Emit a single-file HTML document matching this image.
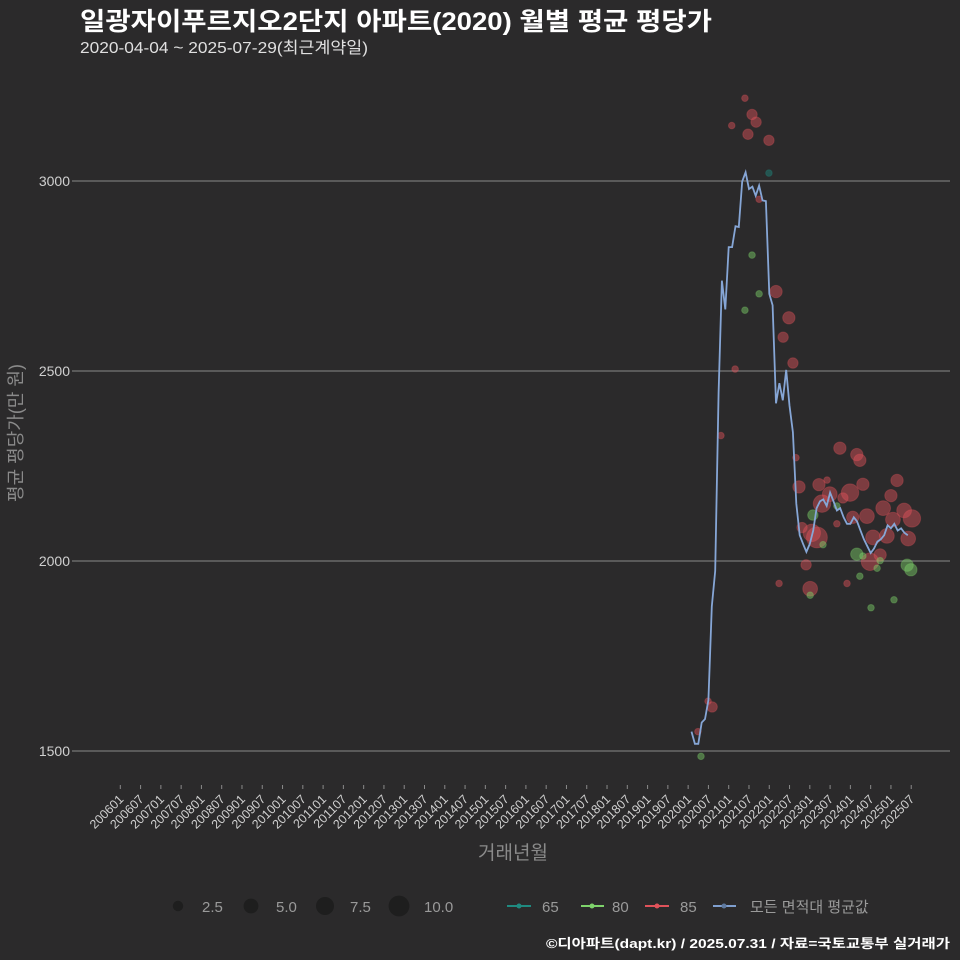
<!DOCTYPE html>
<html><head><meta charset="utf-8">
<style>
html,body{margin:0;padding:0;background:#2b2a2b;}
svg{display:block;font-family:"Liberation Sans","Noto Sans CJK KR",sans-serif;}
</style></head>
<body>
<svg id="chart" width="960" height="960" viewBox="0 0 960 960" xmlns="http://www.w3.org/2000/svg">
<rect width="960" height="960" fill="#2b2a2b"/>
<text x="80" y="30" fill="#ffffff" font-size="25" font-weight="bold" textLength="632" lengthAdjust="spacingAndGlyphs">일광자이푸르지오2단지 아파트(2020) 월별 평균 평당가</text>
<text x="80" y="53" fill="#e0e0e0" font-size="16" textLength="288" lengthAdjust="spacingAndGlyphs">2020-04-04 ~ 2025-07-29(최근계약일)</text>
<g id="grid"></g>
<g id="yticks"></g>
<g id="xticks"></g>
<g id="points"></g>
<g id="line"></g>
<text x="22" y="433" fill="#8a8a8a" font-size="18" text-anchor="middle" transform="rotate(-90 22 433)">평균 평당가(만 원)</text>
<text x="513" y="859" fill="#8a8a8a" font-size="19" text-anchor="middle">거래년월</text>
<g>
<circle cx="178" cy="906" r="5.2" fill="#1e1e1e"/>
<text x="202" y="912" fill="#9a9a9a" font-size="15">2.5</text>
<circle cx="251" cy="906" r="7.4" fill="#1e1e1e"/>
<text x="276" y="912" fill="#9a9a9a" font-size="15">5.0</text>
<circle cx="325" cy="906" r="9" fill="#1e1e1e"/>
<text x="350" y="912" fill="#9a9a9a" font-size="15">7.5</text>
<circle cx="399" cy="906" r="10.4" fill="#1e1e1e"/>
<text x="424" y="912" fill="#9a9a9a" font-size="15">10.0</text>
</g>
<g>
<line x1="507" y1="906" x2="531" y2="906" stroke="#1f8a80" stroke-width="2"/><circle cx="519" cy="906" r="2.5" fill="#1f8a80"/>
<text x="542" y="912" fill="#9a9a9a" font-size="15">65</text>
<line x1="581" y1="906" x2="604" y2="906" stroke="#7ed36b" stroke-width="2"/><circle cx="592" cy="906" r="2.5" fill="#7ed36b"/>
<text x="612" y="912" fill="#9a9a9a" font-size="15">80</text>
<line x1="645" y1="906" x2="669" y2="906" stroke="#e0525a" stroke-width="2"/><circle cx="657" cy="906" r="2.5" fill="#e0525a"/>
<text x="680" y="912" fill="#9a9a9a" font-size="15">85</text>
<line x1="713" y1="906" x2="736" y2="906" stroke="#7f9fcf" stroke-width="2"/><circle cx="724" cy="906" r="2.5" fill="#5f7aa0"/>
<text x="750" y="912" fill="#9a9a9a" font-size="15">모든 면적대 평균값</text>
</g>
<text x="950" y="948" fill="#ffffff" font-size="13" font-weight="bold" text-anchor="end" textLength="404" lengthAdjust="spacingAndGlyphs">©디아파트(dapt.kr) / 2025.07.31 / 자료=국토교통부 실거래가</text>
</svg>
<script>
// month index = months since 2006-01
const yTicks = [1500, 2000, 2500, 3000];
const lineStart = 169;
const lineValues = [1551,1519,1519,1575,1584,1634,1880,1974,2444,2738,2662,2826,2826,2881,2879,2999,3023,2979,2985,2961,2988,2949,2947,2703,2673,2415,2468,2423,2503,2409,2339,2151,2068,2045,2024,2045,2080,2139,2157,2162,2145,2180,2157,2133,2139,2115,2098,2098,2115,2104,2080,2057,2039,2021,2033,2051,2057,2068,2094,2086,2098,2080,2086,2074,2068];
const t85 = [184.8,186.9,188.1,180.9,185.7,191.9,189.0,194.0,197.8,196.1,199.0,181.9,177.7,199.9,200.8,212.9,217.9,218.8,206.7,209.1,219.7,229.8,215.9,228.0,209.9,213.8,207.6,225.7,220.9,216.7,231.9,234.2,228.6,222.7,226.8,233.1,206.1,204.6,201.7,212.0,221.8,224.8,202.9,204.1,194.9,215.0,173.9,175.1,170.9];
const v85 = [3218,3175,3155,3146,3123,3107,2952,2709,2640,2589,2521,2505,2330,2272,2195,2297,2280,2265,2201,2213,2202,2212,2180,2172,2176,2166,2151,2139,2118,2115,2133,2112,2109,2062,2066,2059,2062,2074,2088,2098,1998,2016,1990,1927,1941,1941,1631,1616,1551];
const n85 = [1,2.5,2.5,1,2.5,2.5,1,3.5,3.5,2.5,2.5,1,1,1,3.5,3.5,3.5,3.5,3.5,1,3.5,3.5,7,3.5,5,2.5,7,5,5,3.5,5,7,5,5,5,5,10,7,2.5,1,7,3.5,2.5,5,1,1,1,2.5,1];
const t80 = [184.8,189.0,186.9,204.9,207.9,217.9,219.7,224.8,223.9,232.8,233.9,218.8,204.1,222.1,228.9,171.8,212.0];
const v80 = [2660,2703,2805,2121,2043,2018,2013,2001,1981,1989,1977,1960,1910,1877,1898,1486,2145];
const n80 = [1,1,1,2.5,1,3.5,1,1,1,3.5,3.5,1,1,1,1,1,1];
const t65 = [191.9];
const v65 = [3021];
const n65 = [1];
const xTickLabels = [];
for (let y = 2006; y <= 2025; y++) { xTickLabels.push(y + '01'); xTickLabels.push(y + '07'); }

const NS = 'http://www.w3.org/2000/svg';
const X0 = 120.3, PXM = 3.38;
function xScale(m) { return X0 + m * PXM; }
function yScale(v) { return 181 + (3000 - v) * 0.38; }
function rScale(n) { return 3.3 * Math.sqrt(n); }
function mk(tag, attrs, parent) {
  const el = document.createElementNS(NS, tag);
  for (const k in attrs) el.setAttribute(k, attrs[k]);
  parent.appendChild(el);
  return el;
}
const grid = document.getElementById('grid');
const yt = document.getElementById('yticks');
yTicks.forEach(v => {
  const y = yScale(v);
  const g = mk('line', {x1: 76, x2: 950, y1: y, y2: y, stroke: '#8a8a8a', 'stroke-width': 1}, grid);
  
  
  const tk = mk('line', {x1: 72, x2: 76, y1: y, y2: y, stroke: '#8a8a8a', 'stroke-width': 1}, yt);
  
  
  const t = mk('text', {x: 70, y: y + 5, fill: '#d0d0d0', 'font-size': 14, 'text-anchor': 'end'}, yt);
  t.textContent = v;
  
  
});
const xt = document.getElementById('xticks');
xTickLabels.forEach((lab, i) => {
  const x = xScale(i * 6);
  const tk = mk('line', {x1: x, x2: x, y1: 785, y2: 789, stroke: '#8a8a8a', 'stroke-width': 1}, xt);
  
  
  const t = mk('text', {x: x + 4, y: 800, fill: '#d0d0d0', 'font-size': 12.5, 'text-anchor': 'end', transform: 'rotate(-45 ' + (x + 4) + ' 800)'}, xt);
  t.textContent = lab;
  
  
});
const pts = document.getElementById('points');
function drawSeries(ts, vs, ns, col, name) {
  ts.forEach((m, i) => {
    const c = mk('circle', {cx: xScale(m), cy: yScale(vs[i]), r: rScale(ns[i]), fill: col, 'fill-opacity': 0.45, stroke: col, 'stroke-opacity': 0.3}, pts);
    
    
  });
}
drawSeries(t85, v85, n85, '#e0525a', 'point-85');
drawSeries(t80, v80, n80, '#7ed36b', 'point-80');
drawSeries(t65, v65, n65, '#1f8a80', 'point-65');
const d = lineValues.map((v, i) => (i ? 'L' : 'M') + xScale(lineStart + i).toFixed(1) + ' ' + yScale(v).toFixed(1)).join(' ');
const path = mk('path', {d: d, fill: 'none', stroke: '#86a6d6', 'stroke-width': 1.8}, document.getElementById('line'));


</script>
</body></html>
